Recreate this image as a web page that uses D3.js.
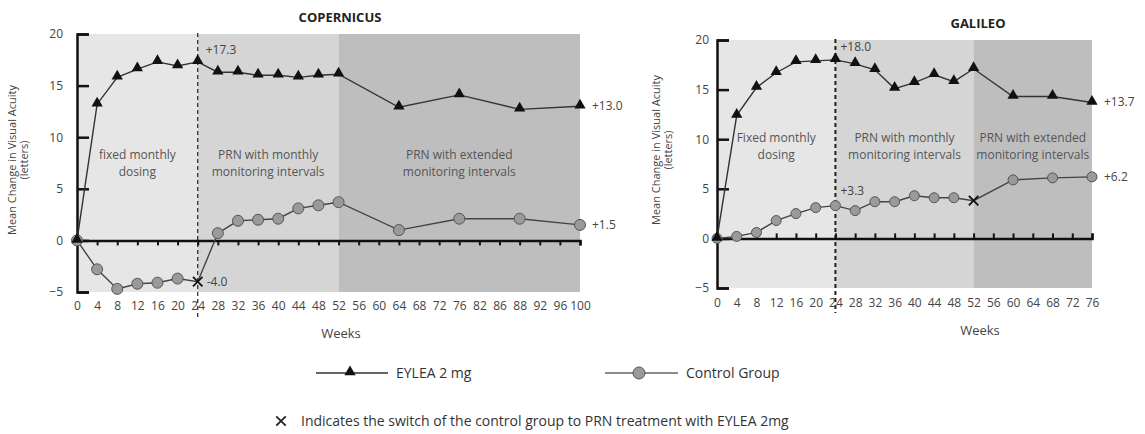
<!DOCTYPE html>
<html>
<head>
<meta charset="utf-8">
<script src="https://cdnjs.cloudflare.com/ajax/libs/d3/7.8.5/d3.min.js"></script>
<style>
body { margin:0; background:#fff; }
text { font-family:"Open Sans", "DejaVu Sans", sans-serif; fill:#3a3a3a; }
</style>
</head>
<body>
<script>
//---------------------------------- datos
var copWeeks   = [0,4,8,12,16,20,24,28,32,36,40,44,48,52,64,76,88,100];
var copEylea   = [0,13.2,15.8,16.6,17.3,16.9,17.3,16.3,16.3,16.0,16.0,15.8,16.0,16.1,12.9,14.1,12.7,13.0];
var copControl = [0,-2.8,-4.7,-4.2,-4.1,-3.7,-4.0,0.7,1.9,2.0,2.1,3.1,3.4,3.7,1.0,2.1,2.1,1.5];
var copTicks   = ["0","4","8","12","16","20","24","28","32","36","40","44","48","52","56","60","64","68","72","76","82","86","88","92","96","100"];

var galWeeks   = [0,4,8,12,16,20,24,28,32,36,40,44,48,52,60,68,76];
var galEylea   = [0,12.4,15.2,16.7,17.8,17.9,18.0,17.6,17.0,15.1,15.7,16.5,15.8,17.1,14.3,14.3,13.7];
var galControl = [0,0.2,0.6,1.8,2.5,3.1,3.3,2.8,3.7,3.7,4.3,4.1,4.1,3.8,5.9,6.1,6.2];
var galTicks   = ["0","4","8","12","16","20","24","28","32","36","40","44","48","52","56","60","64","68","72","76"];

var yTicks = [-5,0,5,10,15,20];
var phaseLabels = [["fixed monthly","dosing"],["PRN with monthly","monitoring intervals"],["PRN with extended","monitoring intervals"]];
var galPhaseLabels = [["Fixed monthly","dosing"],["PRN with monthly","monitoring intervals"],["PRN with extended","monitoring intervals"]];
//----------------------------------

var svg = d3.select("body").append("svg")
	.attr("width",1145)
	.attr("height",434);

function panel(cfg)
{
	var x = d3.scaleLinear().domain([0,cfg.maxWeek]).range([cfg.x0,cfg.x1]);
	var y = d3.scaleLinear().domain([-5,20]).range([cfg.yBot,cfg.yTop]);
	var g = svg.append("g");
	var bounds = [0,24,52,cfg.maxWeek];
	var fills = ["#e6e6e6","#d5d5d5","#bebebe"];

	// fondos
	g.selectAll("rect.band").data(d3.range(3)).enter().append("rect")
		.attr("x",function (i){ return x(bounds[i]); })
		.attr("y",y(20))
		.attr("width",function (i){ return x(bounds[i+1]) - x(bounds[i]); })
		.attr("height",y(-5) - y(20))
		.style("fill",function (i){ return fills[i]; });

	// textos de fase
	cfg.phases.forEach(function (lines,i){
		var cx = (x(bounds[i]) + x(bounds[i+1]))/2;
		lines.forEach(function (t,j){
			g.append("text").attr("x",cx).attr("y",cfg.phaseY + j*17)
				.attr("text-anchor","middle").style("font-size","12px").style("fill","#555").text(t);
		});
	});

	// linea discontinua semana 24
	g.append("line")
		.attr("x1",x(24)).attr("x2",x(24))
		.attr("y1",y(20)-1).attr("y2",y(-5)+25)
		.style("stroke","#222").style("stroke-width",cfg.dashW).style("stroke-dasharray","4,3");

	// eje y
	var yAxis = d3.axisLeft(y).tickValues(yTicks).tickSize(-12).tickSizeOuter(-12).tickPadding(cfg.yPad);
	var ya = g.append("g").attr("transform","translate("+x(0)+",0)").call(yAxis);
	ya.select(".domain").style("stroke","#111").style("stroke-width",2.5);
	ya.selectAll(".tick line").style("stroke","#111").style("stroke-width",2.5);
	ya.selectAll("text").style("font-size","12px").style("fill","#444").style("font-family","Open Sans, sans-serif");

	// eje x en cero
	var xAxis = d3.axisBottom(x).tickValues(d3.range(0,cfg.maxWeek+1,4))
		.tickSize(cfg.tickDir*5).tickSizeOuter(cfg.tickDir*5).tickFormat("");
	var xa = g.append("g").attr("transform","translate(0,"+y(0)+")").call(xAxis);
	xa.select(".domain").style("stroke","#111").style("stroke-width",2.5);
	xa.selectAll(".tick line").style("stroke","#111").style("stroke-width",2);

	// etiquetas x
	var xLab = d3.axisBottom(x).tickValues(d3.range(0,cfg.maxWeek+1,4)).tickSize(0).tickPadding(cfg.labPad)
		.tickFormat(function (d,i){ return cfg.ticks[i]; });
	var xl = g.append("g").attr("transform","translate(0,"+y(-5)+")").call(xLab);
	xl.select(".domain").remove();
	xl.selectAll("text").style("font-size","12px").style("fill","#444").style("font-family","Open Sans, sans-serif");

	g.append("text").attr("x",cfg.weeksX).attr("y",cfg.weeksY).attr("text-anchor","middle")
		.style("font-size","13px").style("fill","#444").text("Weeks");

	// titulo
	g.append("text").attr("x",cfg.titleX).attr("y",cfg.titleY).attr("text-anchor","middle")
		.style("font-size","13px").style("font-weight","bold").style("fill","#222").text(cfg.title);

	// etiqueta eje y
	var yl = g.append("text").attr("transform","translate("+cfg.ylabX+","+cfg.ylabY+") rotate(-90)")
		.attr("text-anchor","middle").style("font-size","11px").style("fill","#444");
	yl.append("tspan").attr("x",0).attr("dy",0).text("Mean Change in Visual Acuity");
	yl.append("tspan").attr("x",0).attr("dy",12).text("(letters)");

	var line = d3.line().x(function (d){ return x(d[0]); }).y(function (d){ return y(d[1]); });
	var ctrl = cfg.weeks.map(function (w,i){ return [w,cfg.control[i]]; });
	var eyl  = cfg.weeks.map(function (w,i){ return [w,cfg.eylea[i]]; });

	g.append("path").datum(ctrl).attr("d",line)
		.style("fill","none").style("stroke","#444").style("stroke-width",1.4);
	g.selectAll("circle.c").data(ctrl.filter(function (d){ return d[0] !== cfg.switchWeek; }))
		.enter().append("circle")
		.attr("cx",function (d){ return x(d[0]); })
		.attr("cy",function (d){ return y(d[1]); })
		.attr("r",cfg.r)
		.style("fill","#9a9a9a").style("stroke","#555").style("stroke-width",1);
	var sw = ctrl.filter(function (d){ return d[0] === cfg.switchWeek; })[0];
	g.append("path").attr("d",d3.symbol().type(d3.symbolX).size(60)())
		.attr("transform","translate("+x(sw[0])+","+y(sw[1])+")")
		.style("stroke","#111").style("stroke-width",1.8).style("fill","none");

	g.append("path").datum(eyl).attr("d",line)
		.style("fill","none").style("stroke","#333").style("stroke-width",1.4);
	g.selectAll("path.t").data(eyl).enter().append("path")
		.attr("d",d3.symbol().type(d3.symbolTriangle).size(55)())
		.attr("transform",function (d){ return "translate("+x(d[0])+","+(y(d[1])-1)+")"; })
		.style("fill","#111");

	// anotaciones
	cfg.notes.forEach(function (n){
		g.append("text").attr("x",x(n.w)+n.dx).attr("y",y(n.v)+n.dy)
			.style("font-size","12px").style("fill","#444").text(n.t);
	});
}

panel({
	title:"COPERNICUS", titleX:340, titleY:22,
	maxWeek:100, x0:77, x1:580, yTop:34, yBot:292,
	weeks:copWeeks, eylea:copEylea, control:copControl, ticks:copTicks,
	switchWeek:24, tickDir:1, labPad:9, r:5.5, yPad:14, dashW:1.2,
	phases:phaseLabels, phaseY:159,
	weeksX:341, weeksY:338, ylabX:16, ylabY:160,
	notes:[
		{w:24,v:17.3,dx:8,dy:-8,t:"+17.3"},
		{w:100,v:13.0,dx:12,dy:4,t:"+13.0"},
		{w:24,v:-4.0,dx:9,dy:4,t:"-4.0"},
		{w:100,v:1.5,dx:12,dy:4,t:"+1.5"}
	]
});

panel({
	title:"GALILEO", titleX:978, titleY:28,
	maxWeek:76, x0:717, x1:1092, yTop:40, yBot:288,
	weeks:galWeeks, eylea:galEylea, control:galControl, ticks:galTicks,
	switchWeek:52, tickDir:-1, labPad:10, r:5, yPad:8, dashW:2,
	phases:galPhaseLabels, phaseY:142,
	weeksX:980, weeksY:335, ylabX:660, ylabY:150,
	notes:[
		{w:24,v:18.0,dx:5,dy:-9,t:"+18.0"},
		{w:76,v:13.7,dx:12,dy:4,t:"+13.7"},
		{w:24,v:3.3,dx:5,dy:-11,t:"+3.3"},
		{w:76,v:6.2,dx:12,dy:4,t:"+6.2"}
	]
});

// leyenda
var leg = svg.append("g");
leg.append("line").attr("x1",316).attr("x2",388).attr("y1",373).attr("y2",373).style("stroke","#333").style("stroke-width",1.5);
leg.append("path").attr("d",d3.symbol().type(d3.symbolTriangle).size(55)()).attr("transform","translate(350,372)").style("fill","#111");
leg.append("text").attr("x",396).attr("y",378).style("font-size","14px").style("fill","#333").text("EYLEA 2 mg");
leg.append("line").attr("x1",605).attr("x2",678).attr("y1",373).attr("y2",373).style("stroke","#666").style("stroke-width",1.5);
leg.append("circle").attr("cx",639).attr("cy",373).attr("r",6).style("fill","#9a9a9a").style("stroke","#555");
leg.append("text").attr("x",686).attr("y",378).style("font-size","14px").style("fill","#333").text("Control Group");

leg.append("path").attr("d",d3.symbol().type(d3.symbolX).size(60)()).attr("transform","translate(281,421)")
	.style("stroke","#222").style("stroke-width",1.8).style("fill","none");
leg.append("text").attr("x",301).attr("y",426).style("font-size","14px").style("fill","#333")
	.text("Indicates the switch of the control group to PRN treatment with EYLEA 2mg");
</script>
</body>
</html>
